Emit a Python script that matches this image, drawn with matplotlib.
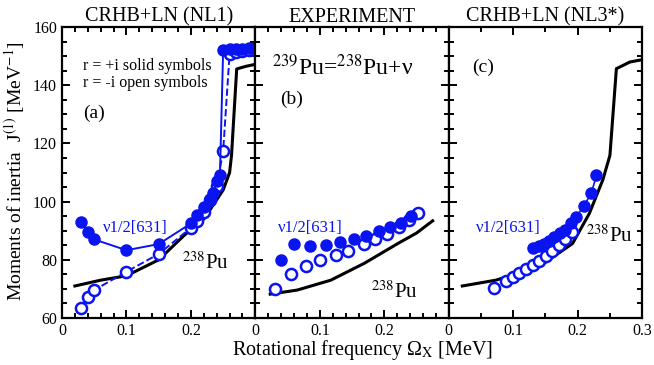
import matplotlib
matplotlib.use('Agg')
import matplotlib.pyplot as plt
from matplotlib.ticker import MultipleLocator, FixedLocator

plt.rcParams['font.family'] = ['Liberation Serif', 'DejaVu Serif']
plt.rcParams['mathtext.fontset'] = 'stix'

# panel (a): CRHB+LN (NL1)
a_curve_x = [0.02, 0.06, 0.10, 0.15, 0.19, 0.22, 0.25, 0.26, 0.263, 0.271, 0.285, 0.30]
a_curve_y = [71.0, 73.0, 74.5, 80.0, 88.5, 94.0, 104.0, 110.0, 116.0, 145.6, 146.5, 147.2]
a_solid_x = [0.03, 0.04, 0.05, 0.10, 0.15, 0.20, 0.21, 0.22, 0.23, 0.235, 0.24, 0.245,
             0.25, 0.26, 0.27, 0.28, 0.29, 0.30]
a_solid_y = [93.0, 89.6, 87.0, 83.3, 85.4, 92.5, 95.3, 98.2, 101.0, 103.0, 107.0, 109.0,
             152.2, 152.4, 152.5, 152.6, 152.7, 152.8]
a_open_x = [0.03, 0.04, 0.05, 0.10, 0.15, 0.20, 0.21, 0.22, 0.23, 0.24, 0.25,
            0.26, 0.27, 0.28, 0.29, 0.30]
a_open_y = [63.3, 67.1, 69.6, 75.9, 82.0, 91.0, 93.5, 96.5, 100.5, 105.5, 117.4,
            150.8, 151.4, 151.8, 152.0, 152.2]

# panel (b): experiment
b_curve_x = [0.023, 0.065, 0.117, 0.169, 0.221, 0.250, 0.275]
b_curve_y = [68.2, 69.6, 73.0, 78.8, 85.6, 89.2, 93.4]
b_solid_x = [0.039, 0.060, 0.085, 0.109, 0.131, 0.153, 0.171, 0.191, 0.209, 0.226, 0.241]
b_solid_y = [79.9, 85.3, 84.8, 85.2, 86.0, 87.1, 88.3, 89.9, 91.3, 92.7, 95.0]
b_open_x = [0.031, 0.055, 0.079, 0.100, 0.125, 0.144, 0.168, 0.185, 0.204, 0.223, 0.239, 0.253]
b_open_y = [69.9, 75.0, 77.8, 79.9, 81.6, 83.1, 85.6, 87.0, 89.0, 91.3, 93.8, 96.1]

# panel (c): CRHB+LN (NL3*)
c_curve_x = [0.021, 0.073, 0.140, 0.192, 0.218, 0.239, 0.250, 0.260, 0.281, 0.300]
c_curve_y = [71.0, 73.0, 77.6, 85.6, 95.9, 107.5, 115.9, 145.7, 148.0, 148.8]
c_solid_x = [0.130, 0.140, 0.148, 0.156, 0.164, 0.173, 0.181, 0.189, 0.198, 0.209, 0.221, 0.229]
c_solid_y = [83.9, 84.7, 85.6, 86.5, 87.7, 89.1, 90.4, 92.5, 94.8, 98.4, 102.8, 109.0]
c_open_x = [0.070, 0.088, 0.099, 0.109, 0.120, 0.130, 0.140, 0.151, 0.160, 0.171, 0.181, 0.191]
c_open_y = [70.2, 72.8, 74.0, 75.3, 76.7, 78.2, 79.7, 81.3, 83.0, 85.0, 87.0, 89.6]

titles = ['CRHB+LN (NL1)', 'EXPERIMENT', 'CRHB+LN (NL3*)']
blue = '#0a14f0'

fig = plt.figure(figsize=(6.54, 3.65), dpi=100)
w = 0.2957
axes = [fig.add_axes([0.0948 + i * w, 0.1288, w, 0.797]) for i in range(3)]

for i, ax in enumerate(axes):
    ax.set_xlim(0, 0.3)
    ax.set_ylim(60, 160)
    for s in ax.spines.values():
        s.set_linewidth(1.6)
    ax.yaxis.set_major_locator(MultipleLocator(20))
    ax.yaxis.set_minor_locator(MultipleLocator(5))
    ax.xaxis.set_major_locator(FixedLocator([0, 0.1, 0.2, 0.3]))
    if i < 2:
        ax.xaxis.set_minor_locator(MultipleLocator(0.02))
    else:
        ax.xaxis.set_minor_locator(MultipleLocator(0.05))
    ax.tick_params(which='both', direction='in', top=True, right=True, width=1.4,
                   labelsize=11.5)
    ax.tick_params(which='major', length=6)
    ax.tick_params(which='minor', length=3.5)
    if i > 0:
        ax.set_yticklabels([])
    if i < 2:
        ax.set_xticklabels(['0', '0.1', '0.2', ''])
    else:
        ax.set_xticklabels(['0', '0.1', '0.2', '0.3'])
    ax.set_title(titles[i], fontsize=14.5, pad=4)

ms = 8
# (a)
ax = axes[0]
ax.plot(a_curve_x, a_curve_y, color='black', lw=2.2, zorder=2)
ax.plot(a_open_x, a_open_y, '--', color=blue, lw=1.4, marker='o', ms=ms,
        mfc='white', mec=blue, mew=1.8, zorder=3)
ax.plot(a_solid_x, a_solid_y, '-', color=blue, lw=1.4, marker='o', ms=ms,
        mfc=blue, mec=blue, zorder=4)
ax.text(0.107, 0.866, 'r = +i solid symbols', transform=ax.transAxes, fontsize=11.5, va='center')
ax.text(0.107, 0.808, 'r = -i open symbols', transform=ax.transAxes, fontsize=11.5, va='center')
ax.text(0.107, 0.705, '(a)', transform=ax.transAxes, fontsize=14, va='center')
ax.text(0.21, 0.31, 'ν1/2[631]', transform=ax.transAxes, fontsize=12,
        va='center', color=blue)
ax.text(0.62, 0.19, r'$^{238}$Pu', transform=ax.transAxes, fontsize=15, va='center')

# (b)
ax = axes[1]
ax.plot(b_curve_x, b_curve_y, color='black', lw=2.2, zorder=2)
ax.plot(b_open_x, b_open_y, 'o', ms=ms, mfc='white', mec=blue, mew=1.8, zorder=3)
ax.plot(b_solid_x, b_solid_y, 'o', ms=ms, mfc=blue, mec=blue, zorder=4)
ax.text(0.085, 0.86, r'$^{239}$Pu=$^{238}$Pu+ν', transform=ax.transAxes,
        fontsize=17, va='center')
ax.text(0.13, 0.75, '(b)', transform=ax.transAxes, fontsize=14, va='center')
ax.text(0.115, 0.31, 'ν1/2[631]', transform=ax.transAxes, fontsize=12,
        va='center', color=blue)
ax.text(0.6, 0.09, r'$^{238}$Pu', transform=ax.transAxes, fontsize=15, va='center')

# (c)
ax = axes[2]
ax.plot(c_curve_x, c_curve_y, color='black', lw=2.2, zorder=2)
ax.plot(c_open_x, c_open_y, 'o', ms=ms, mfc='white', mec=blue, mew=1.8, zorder=3)
ax.plot(c_solid_x, c_solid_y, '-', color=blue, lw=1.2, marker='o', ms=ms,
        mfc=blue, mec=blue, zorder=4)
ax.text(0.12, 0.86, '(c)', transform=ax.transAxes, fontsize=14, va='center')
ax.text(0.14, 0.31, 'ν1/2[631]', transform=ax.transAxes, fontsize=12,
        va='center', color=blue)
ax.text(0.71, 0.28, r'$^{238}$Pu', transform=ax.transAxes, fontsize=15, va='center')

fig.text(0.022, 0.53, r'Moments of inertia  J$^{(1)}$ [MeV$^{-1}$]', rotation=90,
         fontsize=14, ha='center', va='center')
fig.text(0.555, 0.04, r'Rotational frequency Ω$_{\rm X}$ [MeV]', fontsize=14.5,
         ha='center', va='center')

fig.savefig('out.png', dpi=100)
